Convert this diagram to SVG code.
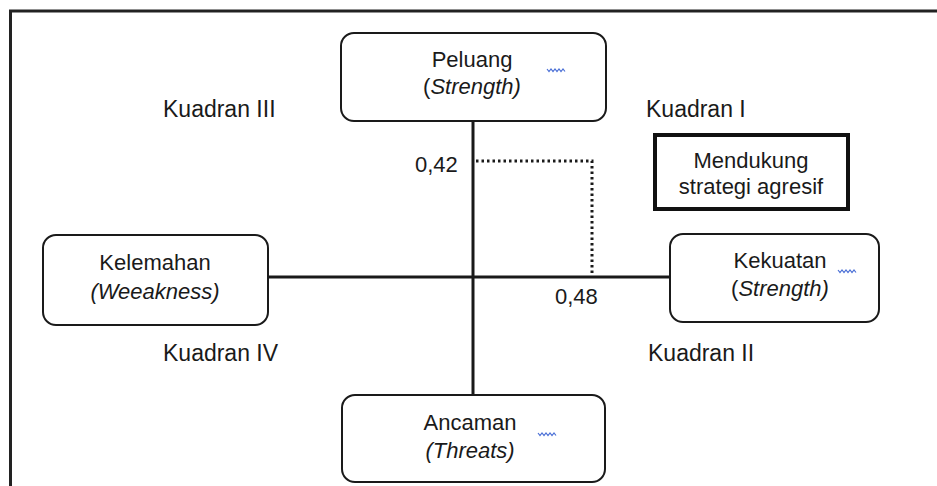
<svg xmlns="http://www.w3.org/2000/svg" width="937" height="486" viewBox="0 0 937 486">
<style>
text{font-family:"Liberation Sans",Arial,sans-serif;font-size:22px;fill:#1a1a1a;text-anchor:middle}
.it{font-style:italic}
.lbl{text-anchor:start}
.q{font-size:23px}
.node{fill:#fff;stroke:#1a1a1a;stroke-width:2}
.axis{stroke:#1a1a1a;stroke-width:3;fill:none}
.dot{stroke:#1a1a1a;stroke-width:3;fill:none;stroke-dasharray:2.5 3}
.sq{stroke:#4a6fd6;stroke-width:1.2;fill:none}
</style>
<rect x="0" y="0" width="937" height="486" fill="#fff"/>
<path d="M10.5 500 V11 H950" fill="none" stroke="#222" stroke-width="3"/>
<g id="connectors">
<line class="axis" x1="473" y1="121" x2="473" y2="395"/>
<line class="axis" x1="268" y1="277" x2="670" y2="277"/>
<path class="dot" d="M476 161 H592 V276"/>
</g>
<g id="peluang">
<rect class="node" x="341" y="33" width="265" height="88" rx="13"/>
<text x="472" y="67">Peluang</text>
<text x="472" y="94">(<tspan class="it">Strength)</tspan></text>
<path class="sq" d="M547 69 l2 2.5 l2 -2.5 l2 2.5 l2 -2.5 l2 2.5 l2 -2.5 l2 2.5 l2 -2.5 l2 2.5"/>
</g>
<g id="kelemahan">
<rect class="node" x="43" y="235" width="225" height="90" rx="13"/>
<text x="155" y="270">Kelemahan</text>
<text x="155" y="299" class="it">(Weeakness)</text>
</g>
<g id="kekuatan">
<rect class="node" x="670" y="234" width="209" height="88" rx="13"/>
<text x="780" y="268">Kekuatan</text>
<text x="780" y="296">(<tspan class="it">Strength)</tspan></text>
<path class="sq" d="M838 270 l2 2.5 l2 -2.5 l2 2.5 l2 -2.5 l2 2.5 l2 -2.5 l2 2.5 l2 -2.5 l2 2.5"/>
</g>
<g id="ancaman">
<rect class="node" x="342" y="395" width="263" height="87" rx="13"/>
<text x="470" y="430">Ancaman</text>
<text x="470" y="458" class="it">(Threats)</text>
<path class="sq" d="M538 433 l2 2.5 l2 -2.5 l2 2.5 l2 -2.5 l2 2.5 l2 -2.5 l2 2.5 l2 -2.5 l2 2.5"/>
</g>
<g id="mendukung">
<rect x="655" y="135" width="193" height="74" fill="#fff" stroke="#111" stroke-width="4"/>
<text x="751" y="168">Mendukung</text>
<text x="751" y="194">strategi agresif</text>
</g>
<g id="labels">
<text class="lbl q" x="163" y="117">Kuadran III</text>
<text class="lbl q" x="646" y="117">Kuadran I</text>
<text class="lbl q" x="163" y="361">Kuadran IV</text>
<text class="lbl q" x="648" y="361">Kuadran II</text>
<text class="lbl" x="415" y="172">0,42</text>
<text class="lbl" x="555" y="304">0,48</text>
</g>
</svg>
